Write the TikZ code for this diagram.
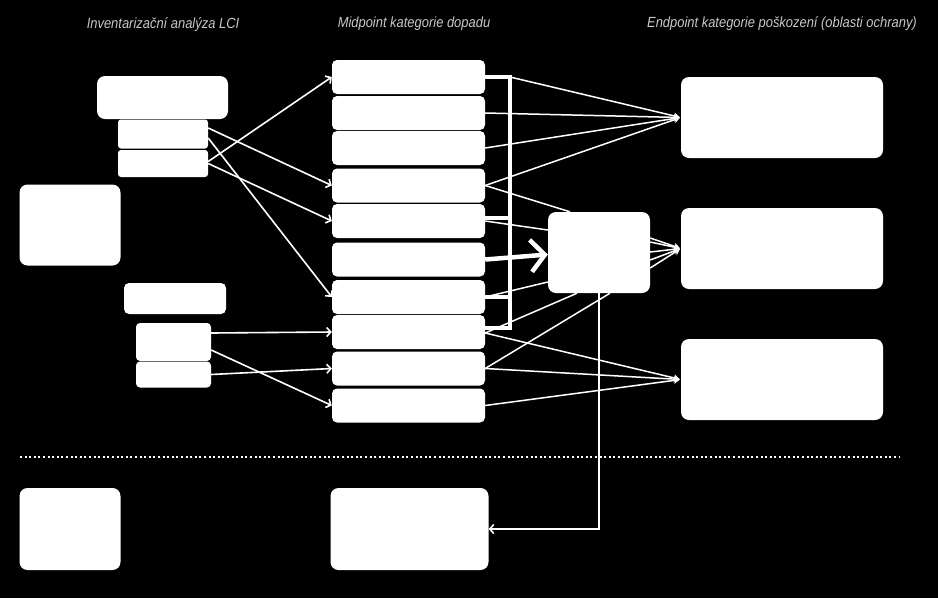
\documentclass[tikz,border=0pt]{standalone}
\usepackage{fontspec}
\usepackage{tikz}
\usetikzlibrary{arrows.meta,calc}
\newfontfamily\headfont[FakeStretch=0.88]{Liberation Sans}
\definecolor{headgray}{HTML}{C8C8C8}
\tikzset{
  box/.style={fill=white, rounded corners=8pt, inner sep=0pt},
  midbox/.style={box, rounded corners=5pt, minimum width=153pt, minimum height=34pt},
  head/.style={font=\headfont\itshape\fontsize{14.7}{17}\selectfont, text=headgray, inner sep=0pt},
  arr/.style={-{Straight Barb[length=4pt,width=9pt]}, white, line width=1.6pt},
  conv/.style={-{Stealth[length=6pt,width=7pt]}, white, line width=1.5pt, shorten >=1pt},
  ln/.style={white, line width=1.5pt},
  bar/.style={white, line width=4.5pt},
  bigarr/.style={bar, -{Straight Barb[length=14pt,width=32pt]}},
  sep/.style={white, line width=2pt, dash pattern=on 2pt off 2.6pt},
}

\begin{document}
\begin{tikzpicture}[x=1pt, y=-1pt]
    \fill[black] (0,0) rectangle (938,598);

    \node[head] (t1) at (163,25) {Inventarizační analýza LCI};
    \node[head] (t2) at (414,24) {Midpoint kategorie dopadu};
    \node[head] (t3) at (782,24) {Endpoint kategorie poškození (oblasti ochrany)};

    \node[box, minimum width=131pt, minimum height=43pt] (lci1) at (162.5,97.5) {};
    \node[box, rounded corners=3pt, minimum width=90pt, minimum height=29pt] (lci2) at (163,134) {};
    \node[box, rounded corners=3pt, minimum width=90pt, minimum height=27pt] (lci3) at (163,163.5) {};
    \node[box, minimum width=101pt, minimum height=81pt] (side) at (70,225) {};
    \node[box, rounded corners=5pt, minimum width=102pt, minimum height=31pt] (lci4) at (175,298.5) {};
    \node[box, rounded corners=4pt, minimum width=75pt, minimum height=38pt] (lci5) at (173.5,342) {};
    \node[box, rounded corners=4pt, minimum width=75pt, minimum height=26pt] (lci6) at (173.5,374.5) {};

    \foreach \y [count=\i] in {77,113,148,185.5,221,259.5,297,332,368.5,405.5}
      \node[midbox] (mid\i) at (408.5,\y) {};

    \node[box, minimum width=102pt, minimum height=81pt] (cen) at (599,252.5) {};
    \node[box, minimum width=202pt, minimum height=81pt] (end1) at (782,117.5) {};
    \node[box, minimum width=202pt, minimum height=81pt] (end2) at (782,248.5) {};
    \node[box, minimum width=202pt, minimum height=81pt] (end3) at (782,379.5) {};

    \coordinate (sepL) at (20,457);
    \coordinate (sepR) at (900,457);
    \draw[sep] (sepL) -- (sepR);

    \node[box, minimum width=101pt, minimum height=82pt] (bot1) at (70,529) {};
    \node[box, minimum width=158pt, minimum height=82pt] (bot2) at (409.5,529) {};

    \draw[arr] ([yshift=6pt]lci2.east) -- (mid4.west);
    \draw[arr] ([yshift=-4pt]lci2.east) -- (mid7.west);
    \draw[arr] ([yshift=2pt]lci3.east) -- (mid1.west);
    \draw[arr] (lci3.east) -- (mid5.west);
    \draw[arr] ([yshift=9pt]lci5.east) -- (mid8.west);
    \draw[arr] ([yshift=-8pt]lci5.east) -- (mid10.west);
    \draw[arr] (lci6.east) -- (mid9.west);

    \coordinate (brtop) at (510,77);
    \coordinate (brbot) at (510,328);
    \draw[bar] (mid1.east) -- (brtop) -- (brbot) -- ([yshift=4pt]mid8.east);
    \draw[bar] ([yshift=3pt]mid5.east) -- ++(25,0);
    \draw[bar] (mid7.east) -- ++(25,0);
    \draw[bigarr] (mid6.east) -- ([yshift=-2pt]cen.west);

    \draw[conv] (brtop) -- (end1.west);
    \draw[conv] (mid2.east) -- (end1.west);
    \draw[conv] (mid3.east) -- (end1.west);
    \draw[conv] (mid4.east) -- (end1.west);

    \draw[ln] (mid4.east) -- ([xshift=-29pt]cen.north);
    \draw[ln] (mid5.east) -- ([yshift=22.5pt]cen.west);
    \draw[ln] (mid7.east) -- ([yshift=-29.5pt]cen.west);
    \draw[ln] ([yshift=-1pt]mid8.east) -- ([xshift=-22pt]cen.south);
    \draw[ln] (mid9.east) -- ([xshift=11pt]cen.south);

    \foreach \s in {14.5,10.5,0.5,-7.5,-15.5}
      \draw[conv] ([yshift=\s pt]cen.east) -- (end2.west);

    \draw[conv] ([yshift=-1pt]mid8.east) -- (end3.west);
    \draw[conv] (mid9.east) -- (end3.west);
    \draw[conv] (mid10.east) -- (end3.west);

    \draw[arr] (cen.south) |- (bot2.east);
  \end{tikzpicture}
\end{document}
